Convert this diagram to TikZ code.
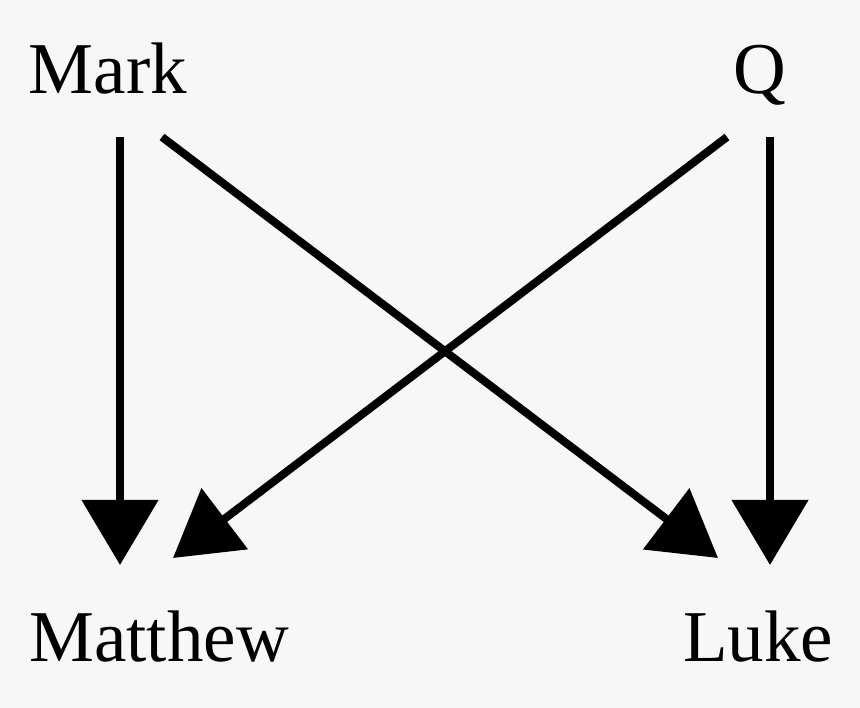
\documentclass[tikz,border=0pt]{standalone}
\usepackage{fontspec}
\setmainfont{Liberation Serif}
\usetikzlibrary{arrows.meta}
\begin{document}
\begin{tikzpicture}[x=1pt,y=-1pt,
  lbl/.style={anchor=base,inner sep=0pt,font=\fontsize{73}{80}\selectfont},
  arr/.style={line width=8pt,-{Triangle[length=65pt,width=75pt]}}]
\fill[fill={rgb,255:red,247;green,247;blue,247}] (0,0) rectangle (860,708);
\useasboundingbox (0,0) rectangle (860,708);
\node[lbl] (mark) at (108,94) {Mark};
\node[lbl] (q) at (760,94) {Q};
\node[lbl] (matthew) at (159,661) {Matthew};
\node[lbl] (luke) at (758,661) {Luke};
\coordinate (m1) at (120,137);
\coordinate (m2) at (162,137);
\coordinate (q1) at (727,137);
\coordinate (q2) at (770,137);
\coordinate (mt1) at (120,565);
\coordinate (mt2) at (173,558);
\coordinate (lk1) at (718,558);
\coordinate (lk2) at (770,565);
\draw[arr] (m1) -- (mt1);
\draw[arr] (m2) -- (lk1);
\draw[arr] (q1) -- (mt2);
\draw[arr] (q2) -- (lk2);
\end{tikzpicture}
\end{document}
